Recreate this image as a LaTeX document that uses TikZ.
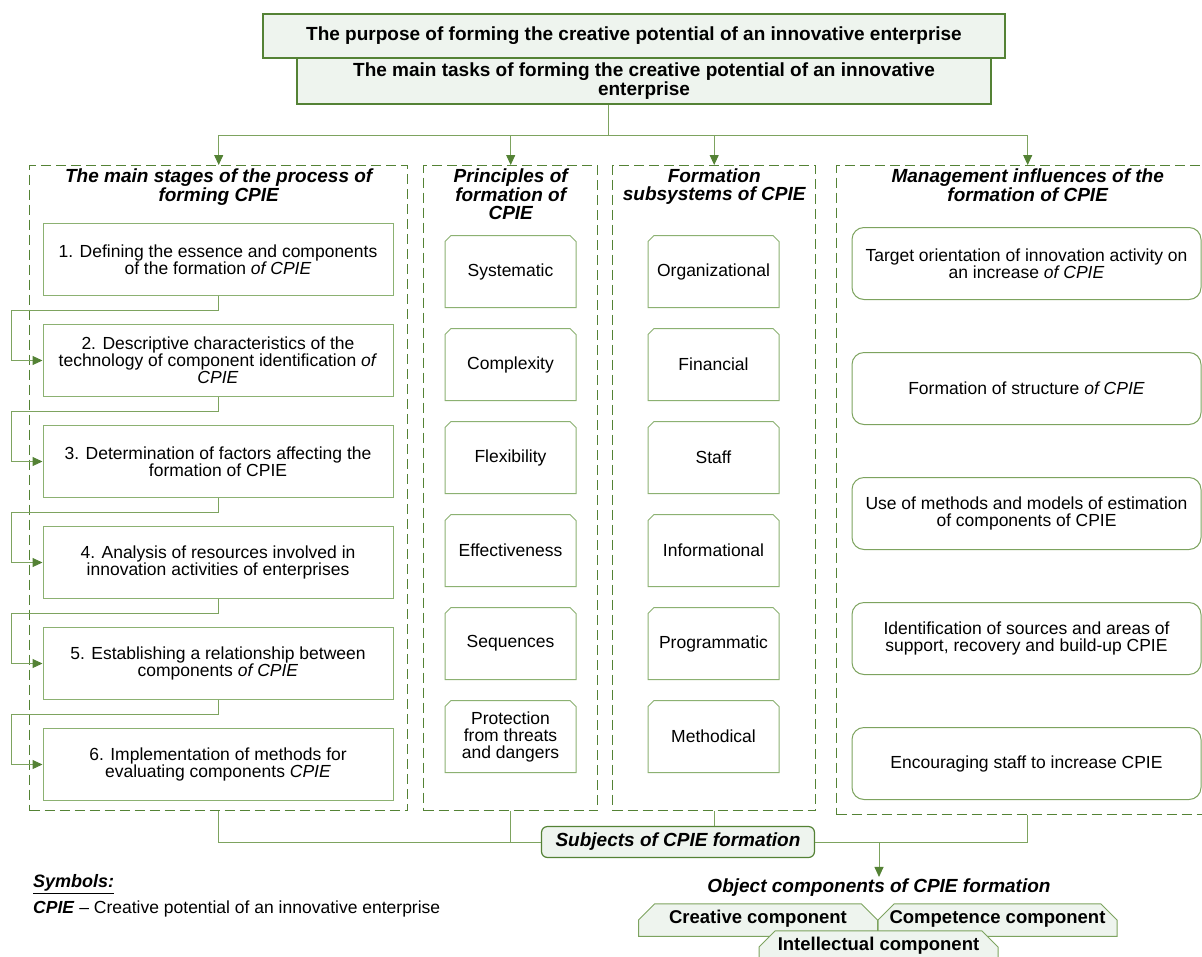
\documentclass[tikz,border=0pt]{standalone}
\usepackage{fontspec}
\setmainfont{Liberation Sans}
\usetikzlibrary{positioning}
\usetikzlibrary{shapes.misc}
\usetikzlibrary{arrows.meta}

\definecolor{linegreen}{HTML}{7DA35F}
\definecolor{darkgreen}{HTML}{548235}
\definecolor{boxgreen}{HTML}{8CB172}
\definecolor{palegreen}{HTML}{EEF4EE}

\begin{document}
\begin{tikzpicture}[
    x=1pt, y=-1pt,
    font=\fontsize{17.5}{17}\selectfont,
    headbox/.style={draw=darkgreen,line width=1.4pt,fill=palegreen,align=center,inner sep=0pt,
      font=\fontsize{19}{17.5}\selectfont\bfseries},
    groupbox/.style={draw=darkgreen,line width=1.4pt,dash pattern=on 10pt off 5pt,inner sep=0pt},
    grouptitle/.style={align=center,inner sep=0pt,font=\fontsize{19}{17.5}\selectfont\bfseries\itshape},
    stagebox/.style={draw=boxgreen,line width=1pt,fill=white,minimum width=350pt,minimum height=72pt,
      align=center,inner sep=0pt},
    tabbox/.style={draw=boxgreen,line width=1pt,fill=white,chamfered rectangle,
      chamfered rectangle corners={north west,north east},chamfered rectangle xsep=3pt,
      chamfered rectangle ysep=3pt,minimum width=131pt,minimum height=72pt,align=center,inner sep=0pt},
    roundbox/.style={draw=linegreen,line width=1pt,fill=white,rounded corners=12pt,minimum width=349pt,
      minimum height=72pt,align=center,inner sep=0pt},
    subjbox/.style={draw=darkgreen,line width=1.2pt,fill=palegreen,rounded corners=6pt,minimum width=273pt,
      minimum height=31pt,inner sep=0pt,font=\fontsize{19}{17.5}\selectfont\bfseries\itshape},
    compbox/.style={draw=linegreen,line width=1pt,fill=palegreen,chamfered rectangle,
      chamfered rectangle corners={north west,north east},chamfered rectangle xsep=12pt,
      chamfered rectangle ysep=13pt,minimum width=239pt,text height=6.5pt,text depth=-6.5pt,
      inner sep=0pt,font=\fontsize{18.5}{17.5}\selectfont\bfseries},
    link/.style={draw=linegreen,line width=1pt},
    arrow/.style={link,-{Triangle[width=9pt,length=10pt,color=darkgreen]}}
    ]
    \useasboundingbox (0,0) rectangle (1202,956);

    % purpose and tasks
    \node[headbox, minimum width=694pt, minimum height=46pt] (tasks) at (644,81)
      {The main tasks of forming the creative potential of an innovative\\enterprise};
    \node[headbox, minimum width=742pt, minimum height=44pt] (purpose) at (634,36)
      {The purpose of forming the creative potential of an innovative enterprise};

    % dashed groups
    \node[groupbox, minimum width=378pt, minimum height=645pt, anchor=north west] (stagesgrp) at (29,165) {};
    \node[groupbox, minimum width=174pt, minimum height=645pt, anchor=north west] (princgrp) at (423,165) {};
    \node[groupbox, minimum width=203pt, minimum height=645pt, anchor=north west] (subsgrp) at (612,165) {};
    \node[groupbox, minimum width=382pt, minimum height=649pt, anchor=north west] (mgmtgrp) at (836,165) {};

    \node[grouptitle, below=4pt of stagesgrp.north] (stagestitle) {The main stages of the process of\\forming CPIE};
    \node[grouptitle, below=4pt of princgrp.north] (princtitle) {Principles of\\formation of\\CPIE};
    \node[grouptitle, below=4pt of subsgrp.north] (substitle) {Formation\\subsystems of CPIE};
    \node[grouptitle, below=4pt of mgmtgrp.north] (mgmttitle) {Management influences of the\\formation of CPIE};

    % stages
    \node[stagebox, anchor=north] (s1) at (218,223)
      {1. Defining the essence and components\\of the formation \textit{of CPIE}};
    \node[stagebox, below=28pt of s1] (s2)
      {2. Descriptive characteristics of the\\technology of component identification \textit{of}\\\textit{CPIE}};
    \node[stagebox, below=28pt of s2] (s3)
      {3. Determination of factors affecting the\\formation of CPIE};
    \node[stagebox, below=28pt of s3] (s4)
      {4. Analysis of resources involved in\\innovation activities of enterprises};
    \node[stagebox, below=28pt of s4] (s5)
      {5. Establishing a relationship between\\components \textit{of CPIE}};
    \node[stagebox, below=28pt of s5] (s6)
      {6. Implementation of methods for\\evaluating components \textit{CPIE}};

    % principles
    \node[tabbox, anchor=north] (p1) at (510.5,235) {Systematic};
    \node[tabbox, below=20pt of p1] (p2) {Complexity};
    \node[tabbox, below=20pt of p2] (p3) {Flexibility};
    \node[tabbox, below=20pt of p3] (p4) {Effectiveness};
    \node[tabbox, below=20pt of p4] (p5) {Sequences};
    \node[tabbox, below=20pt of p5] (p6) {Protection\\from threats\\and dangers};

    % subsystems
    \node[tabbox, anchor=north] (f1) at (713.5,235) {Organizational};
    \node[tabbox, below=20pt of f1] (f2) {Financial};
    \node[tabbox, below=20pt of f2] (f3) {Staff};
    \node[tabbox, below=20pt of f3] (f4) {Informational};
    \node[tabbox, below=20pt of f4] (f5) {Programmatic};
    \node[tabbox, below=20pt of f5] (f6) {Methodical};

    % management influences
    \node[roundbox, anchor=north] (m1) at (1026.5,227)
      {Target orientation of innovation activity on\\an increase \textit{of CPIE}};
    \node[roundbox, below=52pt of m1] (m2) {Formation of structure \textit{of CPIE}};
    \node[roundbox, below=52pt of m2] (m3)
      {Use of methods and models of estimation\\of components of CPIE};
    \node[roundbox, below=52pt of m3] (m4)
      {Identification of sources and areas of\\support, recovery and build-up CPIE};
    \node[roundbox, below=52pt of m4] (m5) {Encouraging staff to increase CPIE};

    % top connectors
    \coordinate (hub) at (608,135);
    \draw[link] (tasks.south -| hub) -- (hub);
    \foreach \g in {stagesgrp,princgrp,subsgrp,mgmtgrp}
      \draw[arrow] (hub) -| (\g.north);

    % stage chain
    \foreach \a/\b in {s1/s2,s2/s3,s3/s4,s4/s5,s5/s6}
      \draw[arrow] (\a.south) -- ++(0,14) -| ([xshift=-31pt]\b.west) -- (\b.west);

    % subjects and objects
    \node[subjbox] (subj) at (678,842) {Subjects of CPIE formation};
    \draw[link] (stagesgrp.south) |- (subj.west);
    \draw[link] (princgrp.south) -- (princgrp.south |- subj.west);
    \draw[link] (subsgrp.south) -- (subsgrp.south |- subj.north);
    \draw[link] (mgmtgrp.south) |- (subj.east);

    \node[grouptitle] (objtitle) at (879,888) {Object components of CPIE formation};
    \draw[arrow] (objtitle.north |- subj.east) -- ([yshift=2pt]objtitle.north);

    \node[compbox] (creative) at (758,920) {Creative component};
    \node[compbox] (competence) at (997.5,920) {Competence component};
    \node[compbox] (intellect) at (878.5,947) {Intellectual component};

    % symbols
    \node[anchor=west, inner sep=0pt, font=\fontsize{18}{18}\selectfont\bfseries\itshape] (symtitle) at (33,884)
      {\underline{Symbols:}};
    \node[anchor=west, inner sep=0pt, font=\fontsize{17.5}{18}\selectfont] (symline) at (33,909)
      {\textbf{\textit{CPIE}} – Creative potential of an innovative enterprise};
\end{tikzpicture}
\end{document}
